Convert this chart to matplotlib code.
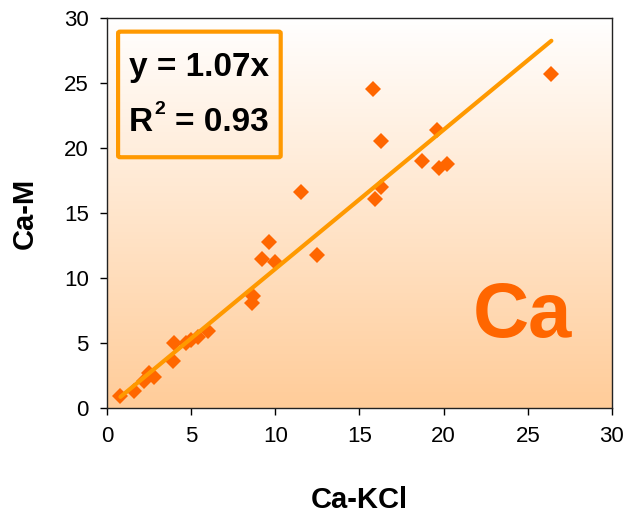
import numpy as np
import matplotlib.pyplot as plt
from matplotlib.patches import FancyBboxPatch

# Ca extracted by KCl vs Mehlich
ca_kcl = [0.8, 1.6, 2.2, 2.5, 2.8, 3.9, 4.0, 4.7, 5.0, 5.4, 6.0,
          8.6, 8.7, 9.2, 9.6, 10.0, 11.5, 12.5,
          15.8, 15.9, 16.3, 16.3, 18.7, 19.6, 19.7, 20.2, 26.4]
ca_m = [0.9, 1.3, 2.1, 2.7, 2.4, 3.6, 5.0, 5.0, 5.2, 5.5, 5.9,
        8.1, 8.6, 11.5, 12.8, 11.2, 16.6, 11.8,
        24.5, 16.1, 20.5, 17.0, 19.0, 21.4, 18.5, 18.8, 25.7]

slope = 1.07
r_squared = 0.93
element = 'Ca'

plt.rcParams['font.family'] = ['Liberation Sans', 'DejaVu Sans']

fig = plt.figure(figsize=(6.3, 5.17), dpi=100)
ax = fig.add_axes([0.1698, 0.2108, 0.8016, 0.7544])

# vertical white -> light orange background
grad = np.linspace(0, 1, 256).reshape(-1, 1)
top = np.array([1.0, 1.0, 1.0])
bottom = np.array([1.0, 0.80, 0.60])
img = top + (bottom - top) * grad[:, :, None]
ax.imshow(img, extent=[0, 30, 0, 30], origin='upper', aspect='auto', zorder=0)

xfit = np.array([min(ca_kcl), max(ca_kcl)])
ax.plot(ca_kcl, ca_m, linestyle='none', marker='D', markersize=8.5,
        color='#FF6600', markeredgewidth=0, zorder=2)
ax.plot(xfit, slope * xfit, color='#FF9900', linewidth=3, zorder=3,
        solid_capstyle='round')

ax.set_xlim(0, 30)
ax.set_ylim(0, 30)
ax.set_xticks(range(0, 31, 5))
ax.set_yticks(range(0, 31, 5))
ax.tick_params(direction='out', length=5, width=1, labelsize=16, pad=8)
for s in ax.spines.values():
    s.set_color('#222222')
    s.set_linewidth(1)

ax.set_xlabel('Ca-KCl', fontsize=21, fontweight='bold', labelpad=28)
ax.set_ylabel('Ca-M', fontsize=21, fontweight='bold', labelpad=18)

# equation box
box = FancyBboxPatch((0.022, 0.643), 0.322, 0.322, transform=ax.transAxes,
                     boxstyle='round,pad=0,rounding_size=0.004',
                     facecolor='none', edgecolor='#FF9900', linewidth=3, zorder=4)
ax.add_patch(box)
ax.text(0.044, 0.851, f'y = {slope}x', transform=ax.transAxes, fontsize=24,
        fontweight='bold', va='baseline', ha='left', zorder=5)
ax.text(0.044, 0.711, 'R', transform=ax.transAxes, fontsize=24,
        fontweight='bold', va='baseline', ha='left', zorder=5)
ax.text(0.094, 0.755, '2', transform=ax.transAxes, fontsize=14,
        fontweight='bold', va='baseline', ha='left', zorder=5)
ax.text(0.134, 0.711, f'= {r_squared}', transform=ax.transAxes, fontsize=24,
        fontweight='bold', va='baseline', ha='left', zorder=5)

ax.text(24.7, 5.5, element, fontsize=56, fontweight='bold', color='#FF6600',
        ha='center', va='baseline', zorder=5)

fig.savefig('out.png', dpi=100)
